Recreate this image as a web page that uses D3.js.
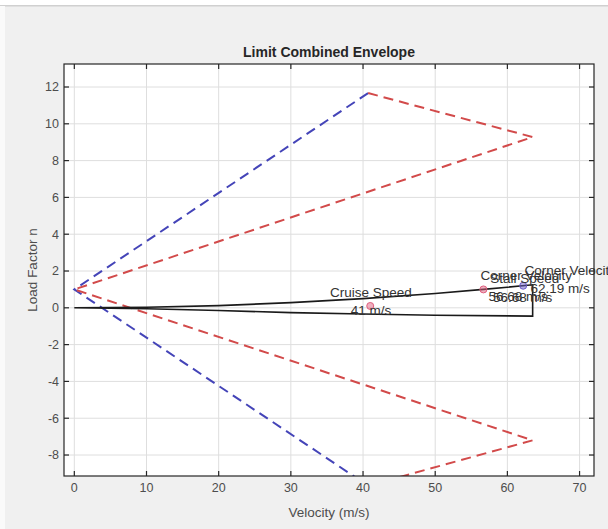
<!doctype html>
<html>
<head>
<meta charset="utf-8">
<script src="https://d3js.org/d3.v7.min.js"></script>
<style>
  body { margin: 0; background: #f0f0f0; }
  text { font-family: "Liberation Sans", Arial, sans-serif; }
</style>
</head>
<body>
<svg id="svg1" width="608" height="529"></svg>
<script>
// ---- data ----
const xTicks = [0, 10, 20, 30, 40, 50, 60, 70];
const yTicks = [-8, -6, -4, -2, 0, 2, 4, 6, 8, 10, 12];

// black envelope (stall curves + closing line)
const upperV = [0, 10, 20, 30, 40, 50, 56.68, 63.5];
const upperN = [0, 0.03, 0.12, 0.28, 0.5, 0.78, 1.0, 1.25];
const lowerV = [63.5, 50, 40, 30, 20, 10, 0];
const lowerN = [-0.45, -0.40, -0.34, -0.26, -0.15, -0.05, 0];

// gust lines (red dashed) and manoeuvre lines (blue dashed)
const redV = [40.7, 63.5, 0, 63.5, 40.7];
const redN = [11.67, 9.28, 1, -7.2, -9.67];
const blueV = [40.7, 0, 40.7];
const blueN = [11.67, 1, -9.67];

// markers
const markerNames = ["Cruise", "Stall", "Corner"];
const markerV = [41, 56.68, 62.19];
const markerN = [0.1, 1.0, 1.2];
const markerColors = ["#e0607f", "#e0607f", "#6a5cc8"];

// annotation texts (line1, line2, centre v of each line, n of each line)
const labelLine1 = ["Cruise Speed", "Corner Velocity", "Stall Speed", "Corner Velocity"];
const labelLine2 = ["41 m/s", "56.68 m/s", "56.68 m/s", "62.19 m/s"];
const labelV1 = [41.1, 62.6, 62.4, 68.7];
const labelV2 = [41.1, 61.5, 62.1, 67.3];
const labelN1 = [0.86, 1.78, 1.62, 2.05];
const labelN2 = [-0.12, 0.6, 0.55, 1.08];

// ---- chart ----
const width = 608, height = 529;
const margin = { top: 64, right: 14, bottom: 53, left: 64 };
const svg = d3.select("#svg1");

svg.append("rect").attr("width", width).attr("height", height).attr("fill", "#f0f0f0");
svg.append("rect").attr("width", width).attr("height", 5).attr("fill", "#ffffff");
svg.append("rect").attr("y", 5).attr("width", width).attr("height", 1.5).attr("fill", "#d0d0d0");
svg.append("rect").attr("y", 6).attr("width", 5).attr("height", height).attr("fill", "#fafafa");

const xScale = d3.scaleLinear().domain([-1.43, 72]).range([margin.left, width - margin.right]);
const yScale = d3.scaleLinear().domain([-9.14, 13.25]).range([height - margin.bottom, margin.top]);

const x0 = margin.left, x1 = width - margin.right;
const y0 = margin.top, y1 = height - margin.bottom;

svg.append("rect")
  .attr("x", x0).attr("y", y0)
  .attr("width", x1 - x0).attr("height", y1 - y0)
  .attr("fill", "#ffffff");

svg.append("clipPath").attr("id", "clip")
  .append("rect").attr("x", x0).attr("y", y0).attr("width", x1 - x0).attr("height", y1 - y0);

// grid
const grid = svg.append("g").attr("stroke", "#dedede").attr("stroke-width", 1);
grid.selectAll(".gx").data(xTicks).join("line")
  .attr("x1", d => xScale(d)).attr("x2", d => xScale(d))
  .attr("y1", y0).attr("y2", y1);
grid.selectAll(".gy").data(yTicks).join("line")
  .attr("y1", d => yScale(d)).attr("y2", d => yScale(d))
  .attr("x1", x0).attr("x2", x1);

const plot = svg.append("g").attr("clip-path", "url(#clip)");
const line = d3.line().x(d => xScale(d[0])).y(d => yScale(d[1]));

plot.append("path")
  .attr("d", line(d3.zip(blueV, blueN)))
  .attr("fill", "none").attr("stroke", "#4444b8").attr("stroke-width", 2)
  .attr("stroke-dasharray", "10,6");

plot.append("path")
  .attr("d", line(d3.zip(redV, redN)))
  .attr("fill", "none").attr("stroke", "#d24a4a").attr("stroke-width", 2)
  .attr("stroke-dasharray", "10,6");

plot.append("path")
  .attr("d", line(d3.zip(upperV, upperN).concat(d3.zip(lowerV, lowerN))))
  .attr("fill", "none").attr("stroke", "#1a1a1a").attr("stroke-width", 1.6);

plot.selectAll(".mk").data(markerNames).join("circle")
  .attr("cx", (d, i) => xScale(markerV[i]))
  .attr("cy", (d, i) => yScale(markerN[i]))
  .attr("r", 3.5)
  .attr("fill", (d, i) => markerColors[i]).attr("fill-opacity", 0.5)
  .attr("stroke", (d, i) => markerColors[i]).attr("stroke-width", 1);

// annotations (not clipped; the last one runs off the right edge like the original)
const ann = svg.append("g").attr("fill", "#333333").attr("font-size", 13.5).attr("text-anchor", "middle");
labelLine1.forEach((t, i) => {
  ann.append("text").attr("x", xScale(labelV1[i])).attr("y", yScale(labelN1[i])).attr("dy", "0.35em").text(t);
  ann.append("text").attr("x", xScale(labelV2[i])).attr("y", yScale(labelN2[i])).attr("dy", "0.35em").text(labelLine2[i]);
});

// axes box with inner ticks on all sides
const axisColor = "#262626";
svg.append("rect")
  .attr("x", x0).attr("y", y0).attr("width", x1 - x0).attr("height", y1 - y0)
  .attr("fill", "none").attr("stroke", axisColor).attr("stroke-width", 1.2);

const ticks = svg.append("g").attr("stroke", axisColor).attr("stroke-width", 1.2);
xTicks.forEach(v => {
  ticks.append("line").attr("x1", xScale(v)).attr("x2", xScale(v)).attr("y1", y1).attr("y2", y1 - 5);
  ticks.append("line").attr("x1", xScale(v)).attr("x2", xScale(v)).attr("y1", y0).attr("y2", y0 + 5);
});
yTicks.forEach(v => {
  ticks.append("line").attr("y1", yScale(v)).attr("y2", yScale(v)).attr("x1", x0).attr("x2", x0 + 5);
  ticks.append("line").attr("y1", yScale(v)).attr("y2", yScale(v)).attr("x1", x1).attr("x2", x1 - 5);
});

const labels = svg.append("g").attr("fill", "#4d4d4d").attr("font-size", 12.5);
labels.selectAll(".xt").data(xTicks).join("text")
  .attr("x", d => xScale(d)).attr("y", y1 + 16)
  .attr("text-anchor", "middle").text(d => d);
labels.selectAll(".yt").data(yTicks).join("text")
  .attr("x", x0 - 5).attr("y", d => yScale(d)).attr("dy", "0.35em")
  .attr("text-anchor", "end").text(d => d);

svg.append("text")
  .attr("x", (x0 + x1) / 2).attr("y", 517)
  .attr("text-anchor", "middle").attr("font-size", 13.5).attr("fill", "#4d4d4d")
  .text("Velocity (m/s)");

svg.append("text")
  .attr("transform", `translate(37, ${(y0 + y1) / 2}) rotate(-90)`)
  .attr("text-anchor", "middle").attr("font-size", 13.5).attr("fill", "#4d4d4d")
  .text("Load Factor n");

svg.append("text")
  .attr("x", (x0 + x1) / 2).attr("y", 57)
  .attr("text-anchor", "middle").attr("font-size", 14).attr("font-weight", "bold").attr("fill", "#262626")
  .text("Limit Combined Envelope");
</script>
</body>
</html>
